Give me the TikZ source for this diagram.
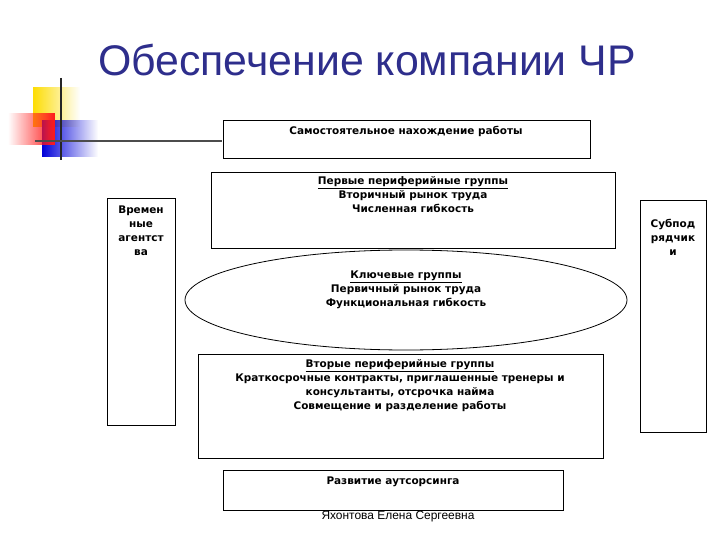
\documentclass[tikz,border=0pt]{standalone}
\usepackage{fontspec}
\setmainfont{DejaVu Sans}
\newfontfamily\tfont{Liberation Sans}
\usetikzlibrary{shapes.geometric,fadings}
\definecolor{ttl}{HTML}{2E2E8C}
\tikzset{bx/.style={draw=black,line width=0.8pt,fill=white},
 tx/.style={font=\bfseries\fontsize{10.5}{14}\selectfont,align=center,inner sep=0pt}}
\begin{document}
\begin{tikzpicture}[x=1bp,y=-1bp]
\useasboundingbox (0,0) rectangle (720,540);
\fill[white] (0,0) rectangle (720,540);
\node[inner sep=0,text=ttl,font=\tfont\fontsize{43}{44}\selectfont] (title) at (367,60) {Обеспечение компании ЧР};
% decoration
\fill[yellow!80!orange,path fading=east] (33,87) rectangle (80,127);
\fill[blue!85!black,path fading=east] (42,120) rectangle (98,157);
\fill[red!90,path fading=west] (8,113) rectangle (55,145);
\draw[line width=2pt,black!85] (61,78) -- (61,160);
\draw[line width=2pt,black!70] (35,141) -- (222,141);
% boxes
\draw[bx] (223,120) rectangle (590,158);
\node[tx] (b1) at (406,131) {Самостоятельное нахождение работы};
\draw[bx] (107,198) rectangle (175,425);
\node[tx] (b2) at (141,231) {Времен\\ные\\агентст\\ва};
\draw[bx] (211,172) rectangle (615,248);
\node[tx,anchor=north] (b3) at (413,176) {\underline{Первые периферийные группы}\\Вторичный рынок труда\\Численная гибкость};
\draw[bx] (640,200) rectangle (706,432);
\node[tx] (b4) at (673,237) {Субпод\\рядчик\\и};
\draw[bx] (406,300) ellipse (221 and 50);
\node[tx] (b5) at (406,290) {\underline{Ключевые группы}\\Первичный рынок труда\\Функциональная гибкость};
\draw[bx] (198,354) rectangle (603,458);
\node[tx,anchor=north] (b6) at (400,359) {\underline{Вторые периферийные группы}\\Краткосрочные контракты, приглашенные тренеры и\\консультанты, отсрочка найма\\Совмещение и разделение работы};
\draw[bx] (223,470) rectangle (563,510);
\node[tx] (b7) at (393,482) {Развитие аутсорсинга};
\node[inner sep=0,font=\tfont\fontsize{12}{12}\selectfont] (ft) at (398,517) {Яхонтова Елена Сергеевна};
\end{tikzpicture}
\end{document}
